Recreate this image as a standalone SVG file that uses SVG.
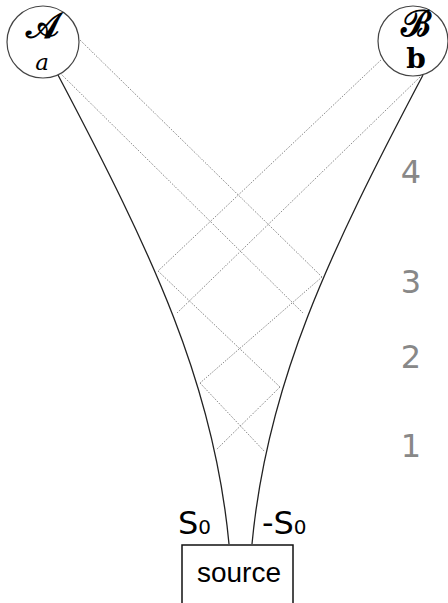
<svg xmlns="http://www.w3.org/2000/svg" width="448" height="603" viewBox="0 0 448 603">
<style>
.node{fill:#fff;stroke:#444;stroke-width:1.2}
.path{fill:none;stroke:#222;stroke-width:1.3}
.dot{fill:none;stroke:#555;stroke-width:0.9;stroke-dasharray:1 1.5}
.lbl{font-family:"DejaVu Sans","Liberation Sans",sans-serif;fill:#000}
.lvl{font-family:"DejaVu Sans","Liberation Sans",sans-serif;fill:#888;font-size:32px;text-anchor:middle}
.ser{font-family:"DejaVu Serif","Liberation Serif",serif;fill:#000;text-anchor:middle}
</style>
<rect width="448" height="603" fill="#fff"/>
<g id="connectors">
<path class="path" d="M58,75 C153,255 214,384 229,544"/>
<path class="path" d="M423,75 C328,255 267,384 252,544"/>
<line class="dot" x1="80" y1="40" x2="322" y2="277"/>
<line class="dot" x1="60" y1="73" x2="303" y2="313"/>
<line class="dot" x1="381" y1="60" x2="158" y2="271"/>
<line class="dot" x1="420" y1="77" x2="177" y2="313"/>
<line class="dot" x1="158" y1="271" x2="280" y2="387"/>
<line class="dot" x1="322" y1="277" x2="200" y2="383"/>
<line class="dot" x1="200" y1="383" x2="265" y2="452"/>
<line class="dot" x1="280" y1="387" x2="216" y2="450"/>
</g>
<g id="nodeA">
<circle class="node" cx="43" cy="42" r="36"/>
<text class="ser" x="42" y="38" font-size="35" font-weight="bold">𝒜</text>
<text class="ser" x="42" y="70" font-size="23" font-style="italic">a</text>
</g>
<g id="nodeB">
<circle class="node" cx="413" cy="41" r="35"/>
<text class="ser" x="416" y="36" font-size="36" font-weight="bold">ℬ</text>
<text class="ser" x="416" y="68" font-size="28" font-weight="bold">b</text>
</g>
<g id="source">
<rect x="182" y="545" width="111" height="70" fill="#fff" stroke="#111" stroke-width="1.5"/>
<text x="239" y="582" font-size="28" text-anchor="middle" font-family="Liberation Sans, Arial, sans-serif">source</text>
</g>
<g id="labels">
<text class="lbl" x="178" y="534" font-size="32">S<tspan font-size="20">0</tspan></text>
<text class="lbl" x="262" y="534" font-size="32">-S<tspan font-size="20">0</tspan></text>
<text class="lvl" x="411" y="183">4</text>
<text class="lvl" x="411" y="293">3</text>
<text class="lvl" x="411" y="368">2</text>
<text class="lvl" x="411" y="457">1</text>
</g>
</svg>
